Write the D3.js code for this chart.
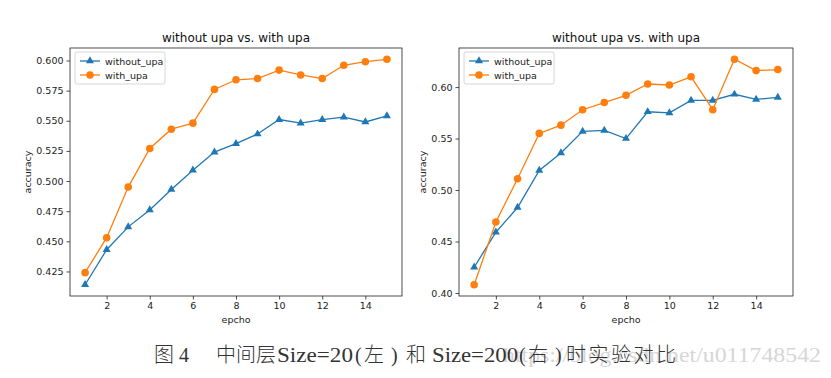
<!DOCTYPE html>
<html>
<head>
<meta charset="utf-8">
<script src="https://cdn.jsdelivr.net/npm/d3@7"></script>
<style>
  body { margin: 0; background: #fff; }
  svg { display: block; }
  .tick text { font-family: "DejaVu Sans", sans-serif; font-size: 9.5px; fill: #222; }
</style>
</head>
<body>
<div id="chart"></div>
<script>
const width = 831;
const height = 378;

const epochs = [1, 2, 3, 4, 5, 6, 7, 8, 9, 10, 11, 12, 13, 14, 15];
const xTicks = [2, 4, 6, 8, 10, 12, 14];

// Size=20 (left)
const leftWithout = [0.414, 0.443, 0.462, 0.476, 0.493, 0.509, 0.524, 0.531, 0.539, 0.551, 0.548, 0.551, 0.553, 0.549, 0.554];
const leftWith = [0.424, 0.453, 0.495, 0.527, 0.543, 0.548, 0.576, 0.584, 0.585, 0.592, 0.588, 0.585, 0.596, 0.599, 0.601];
const leftYTicks = [0.425, 0.450, 0.475, 0.500, 0.525, 0.550, 0.575, 0.600];

// Size=200 (right)
const rightWithout = [0.425, 0.459, 0.483, 0.519, 0.536, 0.557, 0.558, 0.550, 0.576, 0.575, 0.587, 0.587, 0.593, 0.588, 0.590];
const rightWith = [0.408, 0.469, 0.511, 0.555, 0.563, 0.578, 0.585, 0.592, 0.603, 0.602, 0.610, 0.578, 0.627, 0.616, 0.617];
const rightYTicks = [0.40, 0.45, 0.50, 0.55, 0.60];

const title = "without upa vs. with upa";
const seriesNames = ["without_upa", "with_upa"];
const colors = ["#1f77b4", "#ff7f0e"];

// caption pieces: text, left x, width (null = natural)
const captionParts = [
    ["图", 154, null],
    ["4", 179, null],
    ["中间层", 216, null],
    ["Size=20", 277, 76],
    ["(", 355, null],
    ["左", 364, null],
    [")", 391, null],
    ["和", 406, null],
    ["Size=200", 432, 86],
    ["(", 519, null],
    ["右", 528, null],
    [")", 555, null],
    ["时实验对比", 566, 110]
];
const watermark = "https://blog.csdn.net/u011748542";

const svg = d3.select("#chart").append("svg")
    .attr("width", width)
    .attr("height", height);

function drawPanel(box, without, withU, yTicks, yFmt) {
    const g = svg.append("g");

    const x = d3.scaleLinear()
        .domain([0.3, 15.7])
        .range([box.left, box.right]);

    const all = without.concat(withU);
    const lo = d3.min(all), hi = d3.max(all);
    const pad = (hi - lo) * 0.05;
    const y = d3.scaleLinear()
        .domain([lo - pad, hi + pad])
        .range([box.bottom, box.top]);

    // axes
    g.append("g")
        .attr("transform", `translate(0,${box.bottom})`)
        .call(d3.axisBottom(x).tickValues(xTicks).tickSize(3.5).tickPadding(3).tickFormat(d3.format("d")))
        .call(a => a.select(".domain").remove());

    g.append("g")
        .attr("transform", `translate(${box.left},0)`)
        .call(d3.axisLeft(y).tickValues(yTicks).tickSize(3.5).tickPadding(3).tickFormat(d3.format(yFmt)))
        .call(a => a.select(".domain").remove());

    g.selectAll(".tick line").attr("stroke", "#222").attr("stroke-width", 0.8);

    // frame
    g.append("rect")
        .attr("x", box.left)
        .attr("y", box.top)
        .attr("width", box.right - box.left)
        .attr("height", box.bottom - box.top)
        .attr("fill", "none")
        .attr("stroke", "#222")
        .attr("stroke-width", 0.8);

    const line = d3.line()
        .x((d, i) => x(epochs[i]))
        .y(d => y(d));

    // without_upa: triangles
    g.append("path")
        .datum(without)
        .attr("d", line)
        .attr("fill", "none")
        .attr("stroke", colors[0])
        .attr("stroke-width", 1.3);

    g.selectAll(".tri")
        .data(without)
        .join("path")
        .attr("class", "tri")
        .attr("transform", (d, i) => `translate(${x(epochs[i])},${y(d)})`)
        .attr("d", d3.symbol(d3.symbolTriangle, 28))
        .attr("fill", colors[0]);

    // with_upa: circles
    g.append("path")
        .datum(withU)
        .attr("d", line)
        .attr("fill", "none")
        .attr("stroke", colors[1])
        .attr("stroke-width", 1.3);

    g.selectAll(".dot")
        .data(withU)
        .join("circle")
        .attr("class", "dot")
        .attr("cx", (d, i) => x(epochs[i]))
        .attr("cy", d => y(d))
        .attr("r", 3.8)
        .attr("fill", colors[1]);

    // title and labels
    const cx = (box.left + box.right) / 2;
    g.append("text")
        .attr("x", cx)
        .attr("y", box.top - 6)
        .attr("text-anchor", "middle")
        .style("font-family", "DejaVu Sans, sans-serif")
        .style("font-size", "12px")
        .style("fill", "#111")
        .text(title);

    g.append("text")
        .attr("x", cx)
        .attr("y", box.bottom + 27)
        .attr("text-anchor", "middle")
        .style("font-family", "DejaVu Sans, sans-serif")
        .style("font-size", "9.5px")
        .style("fill", "#222")
        .text("epcho");

    g.append("text")
        .attr("transform", "rotate(-90)")
        .attr("x", -(box.top + box.bottom) / 2)
        .attr("y", box.yLabelX)
        .attr("text-anchor", "middle")
        .style("font-family", "DejaVu Sans, sans-serif")
        .style("font-size", "9.5px")
        .style("fill", "#222")
        .text("accuracy");

    // legend
    const lg = g.append("g").attr("transform", `translate(${box.left + 5},${box.top + 4})`);
    lg.append("rect")
        .attr("width", box.legendW)
        .attr("height", 32)
        .attr("rx", 2)
        .attr("fill", "#fff")
        .attr("fill-opacity", 0.8)
        .attr("stroke", "#ccc")
        .attr("stroke-width", 0.8);

    seriesNames.forEach((name, i) => {
        const ly = 9 + i * 14;
        lg.append("line")
            .attr("x1", 5).attr("x2", 25)
            .attr("y1", ly).attr("y2", ly)
            .attr("stroke", colors[i])
            .attr("stroke-width", 1.3);
        if (i === 0) {
            lg.append("path")
                .attr("transform", `translate(15,${ly})`)
                .attr("d", d3.symbol(d3.symbolTriangle, 28))
                .attr("fill", colors[i]);
        } else {
            lg.append("circle")
                .attr("cx", 15).attr("cy", ly).attr("r", 3.8)
                .attr("fill", colors[i]);
        }
        lg.append("text")
            .attr("x", 30)
            .attr("y", ly + 3.5)
            .style("font-family", "DejaVu Sans, sans-serif")
            .style("font-size", "9.5px")
            .style("fill", "#222")
            .text(name);
    });
}

drawPanel({ left: 70, right: 402, top: 48, bottom: 296, yLabelX: 31, legendW: 90 },
    leftWithout, leftWith, leftYTicks, ".3f");
drawPanel({ left: 459, right: 793, top: 48, bottom: 296, yLabelX: 426, legendW: 90 },
    rightWithout, rightWith, rightYTicks, ".2f");

// watermark (behind, as in the source image) and caption
svg.append("text")
    .attr("x", 503)
    .attr("y", 362)
    .attr("textLength", 318)
    .attr("lengthAdjust", "spacingAndGlyphs")
    .style("font-family", "Liberation Serif, serif")
    .style("font-size", "20px")
    .style("fill", "#d6d6d6")
    .text(watermark);

const cap = svg.append("text")
    .attr("y", 362)
    .style("font-family", "Liberation Serif, 'Noto Sans CJK SC', serif")
    .style("font-size", "20px")
    .style("font-weight", 300)
    .style("fill", "#333");

cap.selectAll("tspan")
    .data(captionParts)
    .join("tspan")
    .attr("x", d => d[1])
    .attr("textLength", d => d[2])
    .attr("lengthAdjust", d => /^[\x00-\x7f]+$/.test(d[0]) ? "spacingAndGlyphs" : "spacing")
    .text(d => d[0]);
</script>
</body>
</html>
